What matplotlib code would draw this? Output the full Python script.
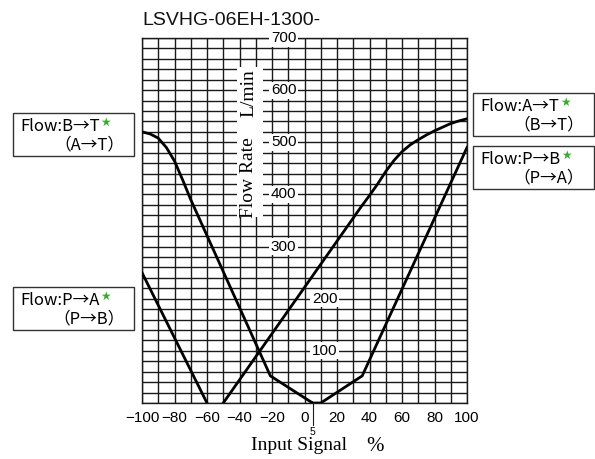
import matplotlib
matplotlib.use("Agg")
import matplotlib.pyplot as plt
from matplotlib.patches import Rectangle
import numpy as np

# ---- data ----
x_ticks = [-100, -80, -60, -40, -20, 0, 20, 40, 60, 80, 100]
x_tick_labels = ["\u2212100", "\u221280", "\u221260", "\u221240", "\u221220", "0", "20", "40", "60", "80", "100"]
y_label_values_left = [700, 600, 500, 400, 300]
y_label_values_right = [200, 100]

bt_x = [-100, -95, -90, -85, -80, -75, -70, -21, 5]
bt_y = [520, 516, 508, 490, 464, 428, 390, 52, 0]

pb_x = [5, 10, 35.5, 100]
pb_y = [0, 0, 52, 490]

at_x = [-50, 35, 40, 45, 50, 55, 60, 65, 70, 75, 80, 85, 90, 95, 100]
at_y = [0, 377, 398, 420, 444, 465, 482, 495, 505, 514, 522, 529, 536, 541, 545]

pa_x = [-100, -60]
pa_y = [250, 0]

legend_items = [
    ("Flow:B\u2192T", "\uff08A\u2192T\uff09"),
    ("Flow:A\u2192T", "\uff08B\u2192T\uff09"),
    ("Flow:P\u2192B", "\uff08P\u2192A\uff09"),
    ("Flow:P\u2192A", "\uff08P\u2192B\uff09"),
]
legend_boxes_px = [(13, 113), (473, 93), (473, 146), (13, 287)]

# ---- figure ----
W, H = 595, 459
fig = plt.figure(figsize=(W / 100, H / 100), dpi=100)
fig.patch.set_facecolor("white")

def fx(x):
    return x / W

def fy(y):
    return 1 - y / H

ax = fig.add_axes([142 / W, (H - 403) / H, 325 / W, 365 / H])
ax.set_xlim(-100, 100)
ax.set_ylim(0, 700)

gcol = "#1a1a1a"
ax.set_xticks(x_ticks)
ax.set_xticklabels(x_tick_labels, family="Liberation Sans", fontsize=11)
ax.set_xticks(np.arange(-100, 101, 10), minor=True)
ax.set_yticks(np.arange(0, 701, 20))
ax.set_yticklabels([])
ax.tick_params(axis="both", which="both", length=0, pad=5.5)
ax.grid(True, which="both", color=gcol, lw=1.0)
ax.set_axisbelow(True)
for s in ax.spines.values():
    s.set_color(gcol)
    s.set_linewidth(1.0)

# y value labels with white backgrounds
for v in y_label_values_left:
    ax.text(-5.0, v, str(v), ha="right", va="center", family="Liberation Sans",
            fontsize=11, zorder=3,
            bbox=dict(boxstyle="square,pad=0.1", fc="white", ec="none"))
for v in y_label_values_right:
    ax.text(4.6, v, str(v), ha="left", va="center", family="Liberation Sans",
            fontsize=11, zorder=3,
            bbox=dict(boxstyle="square,pad=0.1", fc="white", ec="none"))

# axis title block (white)
ax.add_patch(Rectangle((-41.5, 357), 16, 287, facecolor="white", edgecolor="none", zorder=3))
ax.text(-34.3, 433, "Flow Rate", rotation=90, ha="center", va="center",
        family="Liberation Serif", fontsize=14, zorder=4)
ax.text(-34.3, 594, "L/min", rotation=90, ha="center", va="center",
        family="Liberation Serif", fontsize=14, zorder=4)

# curves
lw = 2.0
for xs, ys in [(bt_x, bt_y), (pb_x, pb_y), (at_x, at_y), (pa_x, pa_y)]:
    ax.plot(xs, ys, color="black", lw=lw, zorder=5, solid_joinstyle="round")

# "5" marker below axis
ax.plot([5, 5], [0, -42], color=gcol, lw=0.8, clip_on=False)
ax.text(5, -56, "5", ha="center", va="center", family="Liberation Sans", fontsize=7.5)

# x label
fig.text(fx(251), fy(450), "Input Signal", family="Liberation Serif", fontsize=14,
         ha="left", va="baseline")
fig.text(fx(375), fy(451), "%", family="Liberation Serif", fontsize=15,
         ha="center", va="baseline")

# title
fig.text(fx(142), fy(25), "LSVHG-06EH-1300-", family="Liberation Sans", fontsize=14,
         ha="left", va="baseline", color="#111111")

# legend boxes
fam = ["Noto Sans CJK JP", "DejaVu Sans"]
renderer = fig.canvas.get_renderer()
for (l1, l2), (bx, by) in zip(legend_items, legend_boxes_px):
    rect = Rectangle((fx(bx), fy(by + 43)), 121 / W, 43 / H, transform=fig.transFigure,
                     facecolor="white", edgecolor="#333333", lw=1.0)
    fig.patches.append(rect)
    t1 = fig.text(fx(bx + 7), fy(by + 18), l1, family=fam, fontsize=12, ha="left", va="baseline")
    ext = t1.get_window_extent(renderer=renderer)
    xr = ext.x1 / W
    fig.text(xr + 1 / W, fy(by + 9.5), "\u2605", family=["DejaVu Sans"], fontsize=8.5,
             color="#3aaa35", ha="left", va="center")
    fig.text(fx(bx + 76), fy(by + 36.5), l2, family=fam, fontsize=12,
             ha="center", va="baseline")

fig.savefig("out.png", dpi=100, facecolor="white")
